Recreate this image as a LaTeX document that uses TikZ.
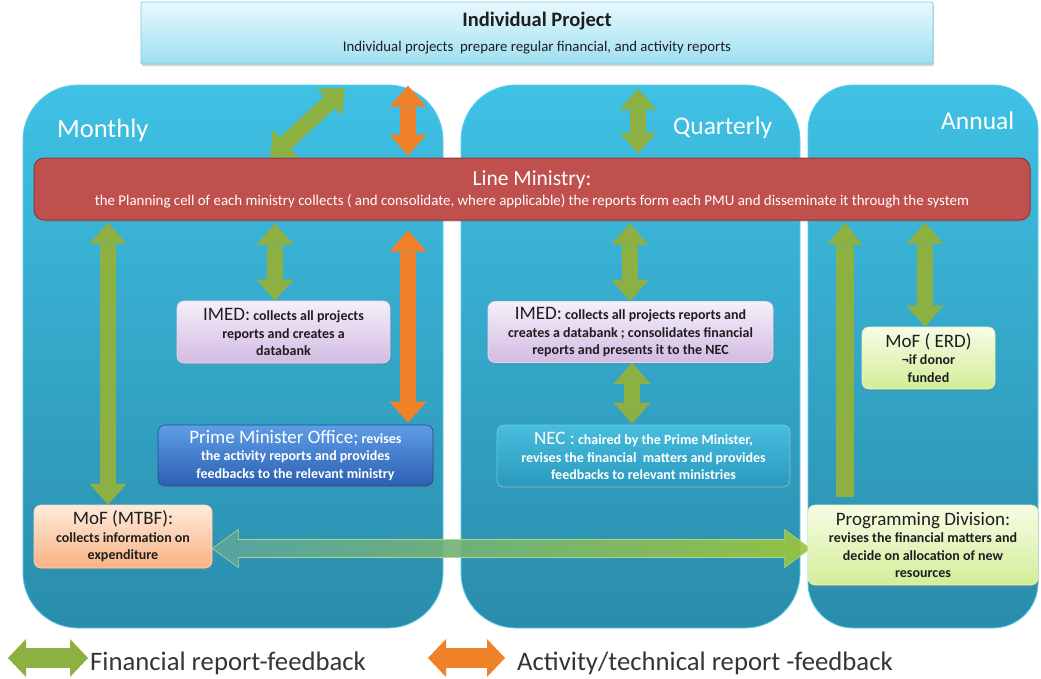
\documentclass[tikz,border=0pt]{standalone}
\usepackage{fontspec}
\setmainfont{Carlito}
\usetikzlibrary{arrows.meta,shadows,calc}
\definecolor{panTop}{HTML}{3FC1E5}
\definecolor{panBot}{HTML}{2A8CAB}
\definecolor{panEdge}{HTML}{5CCDEA}
\definecolor{lmFill}{HTML}{C0504D}
\definecolor{lmEdge}{HTML}{8C3836}
\definecolor{ipTop}{HTML}{E8F9FD}
\definecolor{ipBot}{HTML}{9EDFF0}
\definecolor{ipEdge}{HTML}{7CCCE0}
\definecolor{puTop}{HTML}{F6EFFA}
\definecolor{puBot}{HTML}{D2BBE2}
\definecolor{blTop}{HTML}{5E9EE6}
\definecolor{blBot}{HTML}{2C5FB2}
\definecolor{pcTop}{HTML}{FEEBDC}
\definecolor{pcBot}{HTML}{F8B283}
\definecolor{ncTop}{HTML}{48BEDF}
\definecolor{ncBot}{HTML}{2A98BC}
\definecolor{lgTop}{HTML}{F7FCE6}
\definecolor{lgBot}{HTML}{D3ED98}
\definecolor{gArr}{HTML}{8DB043}
\definecolor{oArr}{HTML}{EF8129}
\definecolor{hLeft}{HTML}{58A6A2}
\definecolor{hRight}{HTML}{9CC53C}
\definecolor{hEdge}{HTML}{B9DA84}
\definecolor{txt}{HTML}{1E1E1E}
\newcommand\bxfont{\fontsize{14}{17.5}\selectfont\bfseries}
\newcommand\bhdr[1]{{\fontsize{19}{20}\selectfont\mdseries #1}}
\begin{document}
\begin{tikzpicture}[x=1pt,y=-1pt,
  panel/.style={rounded corners=55pt, top color=panTop, bottom color=panBot, draw=panEdge, line width=0.8pt, inner sep=0pt},
  plabel/.style={anchor=base west, inner sep=0pt, text=white, font=\fontsize{25.5}{27}\selectfont},
  bx/.style={rounded corners=7pt, inner sep=1pt, align=center, font=\bxfont, text=txt, line width=0.6pt,
     drop shadow={opacity=0.3, shadow xshift=1pt, shadow yshift=-2pt}},
  purple/.style={bx, top color=puTop, bottom color=puBot, draw=puTop!60!puBot},
  blue/.style={bx, top color=blTop, bottom color=blBot, draw=blBot!80!black, text=white},
  peach/.style={bx, top color=pcTop, bottom color=pcBot, draw=pcTop!60!pcBot},
  cyanbox/.style={bx, top color=ncTop, bottom color=ncBot, draw=ncTop!80!white, text=white},
  lgreen/.style={bx, top color=lgTop, bottom color=lgBot, draw=lgTop!50!lgBot},
  garrow/.style={draw=gArr, line width=16pt, {Triangle[length=21pt,width=37pt,line width=0pt]}-{Triangle[length=21pt,width=37pt,line width=0pt]}},
  garrowU/.style={draw=gArr, line width=18pt, -{Triangle[length=22pt,width=35pt,line width=0pt]}},
  oarrow/.style={draw=oArr, line width=16pt, {Triangle[length=21pt,width=37pt,line width=0pt]}-{Triangle[length=21pt,width=37pt,line width=0pt]}},
  legG/.style={draw=gArr, line width=20pt, {Triangle[length=18pt,width=38pt,line width=0pt]}-{Triangle[length=18pt,width=38pt,line width=0pt]}},
  legO/.style={draw=oArr, line width=20pt, {Triangle[length=18pt,width=38pt,line width=0pt]}-{Triangle[length=18pt,width=38pt,line width=0pt]}},
  legtext/.style={anchor=base west, inner sep=0pt, text=txt!90!white, font=\fontsize{26.7}{28}\selectfont}
]
\fill[white] (0,0) rectangle (1041,678);
\useasboundingbox (0,0) rectangle (1041,678);

% panels
\node[panel, minimum width=420pt, minimum height=543pt] (mon) at (233,356.5) {};
\node[panel, minimum width=339pt, minimum height=543pt] (qua) at (630.5,356.5) {};
\node[panel, rounded corners=45pt, minimum width=230pt, minimum height=543pt] (ann) at (923,356.5) {};
\node[plabel, font=\fontsize{26.5}{28}\selectfont] (monL) at (57,137) {Monthly};
\node[plabel] (quaL) at (673,134) {Quarterly};
\node[plabel] (annL) at (941,129) {Annual};

% top box
\node[rounded corners=1pt, top color=ipTop, bottom color=ipBot, draw=ipEdge, line width=0.8pt,
      minimum width=792pt, minimum height=62pt, align=center, text=txt, inner sep=0pt,
      font=\fontsize{14.8}{21}\selectfont,
      drop shadow={opacity=0.3, shadow xshift=1pt, shadow yshift=-2pt}] (ip) at (537,33)
  {{\fontsize{20.5}{22}\selectfont\bfseries Individual Project}\\[4pt]Individual projects\ \ prepare regular financial, and activity reports};

% line ministry bar
\node[rounded corners=10pt, fill=lmFill, draw=lmEdge, line width=1pt,
      minimum width=996pt, minimum height=62pt, align=center, text=white, inner sep=0pt,
      font=\fontsize{14.9}{20}\selectfont,
      drop shadow={opacity=0.3, shadow xshift=1pt, shadow yshift=-2pt}] (lm) at (532,189)
  {{\fontsize{21.5}{23}\selectfont Line Ministry:}\\the Planning cell of each ministry collects ( and consolidate, where applicable) the reports form each PMU and disseminate it through the system};

% boxes
\node[purple, minimum width=213pt, minimum height=62pt] (imed1) at (283.5,332)
  {\bhdr{IMED:} collects all projects\\reports and creates a\\databank};
\node[blue, minimum width=275pt, minimum height=61pt] (pmo) at (295.5,455.5)
  {\bhdr{Prime Minister Office;} revises\\the activity reports and provides\\feedbacks to the relevant ministry};
\node[peach, minimum width=178pt, minimum height=63pt] (mtbf) at (123,536.5)
  {\bhdr{MoF (MTBF):}\\collects information on\\expenditure};
\node[purple, minimum width=285pt, minimum height=61pt] (imed2) at (630.5,332)
  {\bhdr{IMED:} collects all projects reports and\\creates a databank ; consolidates financial\\reports and presents it to the NEC};
\node[cyanbox, minimum width=293pt, minimum height=62pt] (nec) at (643.5,456)
  {\bhdr{NEC :} chaired by the Prime Minister,\\revises the financial\ \ matters and provides\\feedbacks to relevant ministries};
\node[lgreen, minimum width=133pt, minimum height=62pt] (erd) at (928.5,358)
  {\bhdr{MoF ( ERD)}\\¬if donor\\funded};

% horizontal arrow (drawn before programming box)
\coordinate (hL) at ([yshift=-12pt]mtbf.east);
\coordinate (hR) at ([xshift=3pt]hL -| ann.west);
\shadedraw[left color=hLeft, right color=hRight, draw=hEdge, line width=0.6pt, opacity=0.92]
  (hL) -- ($(hL)+(26,-19)$) -- ($(hL)+(26,-9)$) -- ($(hR)+(-26,-9)$) -- ($(hR)+(-26,-19)$)
  -- (hR) -- ($(hR)+(-26,19)$) -- ($(hR)+(-26,9)$) -- ($(hL)+(26,9)$) -- ($(hL)+(26,19)$) -- cycle;

\node[lgreen, minimum width=230pt, minimum height=80pt] (prog) at (923,545)
  {\bhdr{Programming Division:}\\revises the financial matters and\\decide on allocation of new\\resources};

% arrows top
\coordinate (dgEnd) at (345,88);
\draw[garrow] (lm.north -| 270,0) -- (dgEnd);
\draw[oarrow] ([yshift=-1pt]mon.north -| 408,0) -- ([yshift=2pt]lm.north -| 408,0);
\draw[garrow] ([yshift=-4pt]qua.north -| 638,0) -- ([yshift=4pt]lm.north -| 638,0);

% monthly arrows
\draw[garrow] ([yshift=-2pt]lm.south -| 108,0) -- (mtbf.north -| 108,0);
\draw[garrow] ([yshift=-3pt]lm.south -| 275,0) -- (imed1.north -| 275,0);
\draw[oarrow] ([yshift=-10pt]lm.south -| 408,0) -- ([yshift=2pt]pmo.north -| 408,0);

% quarterly arrows
\draw[garrow] ([yshift=-3pt]lm.south -| 630,0) -- (imed2.north -| 630,0);
\draw[garrow] (imed2.south -| 632,0) -- ([yshift=1pt]nec.north -| 632,0);

% annual arrows
\draw[garrowU] ([yshift=8pt]prog.north -| 845,0) -- ([yshift=-2pt]lm.south -| 845,0);
\draw[garrow] ([yshift=-2pt]lm.south -| 925,0) -- (erd.north -| 925,0);

% legend
\coordinate (lg1) at (8,658);
\coordinate (lg2) at (88,658);
\coordinate (lo1) at (428,658);
\coordinate (lo2) at (505,658);
\draw[legG] (lg1) -- (lg2);
\draw[legO] (lo1) -- (lo2);
\node[legtext] (lgt) at (90,670) {Financial report-feedback};
\node[legtext] (lot) at (517,670) {Activity/technical report -feedback};
\end{tikzpicture}
\end{document}
